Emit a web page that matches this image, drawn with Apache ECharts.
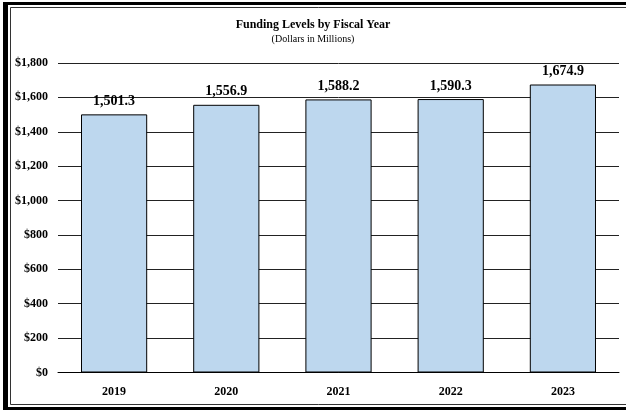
<!DOCTYPE html>
<html>
<head>
<meta charset="utf-8">
<script src="https://cdn.jsdelivr.net/npm/echarts@6/dist/echarts.min.js"></script>
<style>
    * {
        margin: 0;
        padding: 0;
    }
    body {
        background: #fff;
    }
    #main {
        width: 626px;
        height: 411px;
    }
</style>
</head>
<body>
<div id="main"></div>
<script>
    // data
    const years = ['2019', '2020', '2021', '2022', '2023']
    const funding = [1501.3, 1556.9, 1588.2, 1590.3, 1674.9]
    const yTicks = [0, 200, 400, 600, 800, 1000, 1200, 1400, 1600, 1800]

    const serif = '"Liberation Serif", "Times New Roman", serif'
    let myChart = echarts.init(document.getElementById('main'))
    let option = {
        animation: false,
        title: {
            text: 'Funding Levels by Fiscal Year',
            subtext: '(Dollars in Millions)',
            left: 'center',
            top: 14,
            itemGap: 3,
            textStyle: {
                fontFamily: serif,
                fontSize: 12,
                fontWeight: 'bold',
                color: '#000'
            },
            subtextStyle: {
                fontFamily: serif,
                fontSize: 10,
                color: '#000'
            }
        },
        grid: {
            left: 58,
            right: 7,
            top: 63,
            bottom: 38.5
        },
        xAxis: {
            type: 'category',
            data: years,
            axisTick: {show: false},
            axisLine: {lineStyle: {color: '#000', width: 1}},
            axisLabel: {
                margin: 13,
                fontFamily: serif,
                fontSize: 12,
                fontWeight: 'bold',
                color: '#000'
            }
        },
        yAxis: {
            type: 'value',
            min: yTicks[0],
            max: yTicks[yTicks.length - 1],
            interval: 200,
            axisLine: {show: false},
            axisTick: {show: false},
            splitLine: {lineStyle: {color: '#222', width: 1}},
            axisLabel: {
                margin: 10,
                fontFamily: serif,
                fontSize: 12,
                fontWeight: 'bold',
                color: '#000',
                formatter: v => '$' + v.toLocaleString('en-US')
            }
        },
        series: [
            {
                type: 'bar',
                data: funding,
                barWidth: '59%',
                itemStyle: {
                    color: '#BDD7EE',
                    borderColor: '#000',
                    borderWidth: 1
                },
                label: {
                    show: true,
                    position: 'top',
                    distance: 6,
                    fontFamily: serif,
                    fontSize: 14,
                    fontWeight: 'bold',
                    color: '#000',
                    formatter: p => p.value.toLocaleString('en-US', {minimumFractionDigits: 1, maximumFractionDigits: 1})
                }
            }
        ],
        graphic: [
            // frame round the chart (open on the right)
            {type: 'rect', shape: {x: 3, y: 2, width: 5, height: 408}, style: {fill: '#000'}},
            {type: 'rect', shape: {x: 3, y: 2, width: 623, height: 3}, style: {fill: '#000'}},
            {type: 'rect', shape: {x: 3, y: 407, width: 623, height: 3}, style: {fill: '#000'}},
            {type: 'rect', shape: {x: 10.5, y: 7.5, width: 700, height: 397}, style: {fill: 'none', stroke: '#333', lineWidth: 1}}
        ]
    }
    myChart.setOption(option)
</script>
</body>
</html>
